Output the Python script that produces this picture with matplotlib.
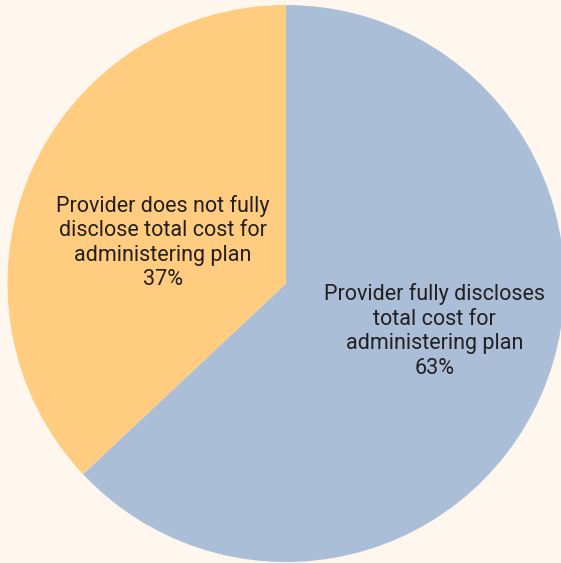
import matplotlib
matplotlib.use("Agg")
import matplotlib.pyplot as plt

categories = ["Provider fully discloses\ntotal cost for\nadministering plan",
              "Provider does not fully\ndisclose total cost for\nadministering plan"]
values = [63, 37]
colors = ["#AABED8", "#FFCC80"]
bg = "#FFF7EE"

plt.rcParams['font.family'] = ['Liberation Sans Narrow', 'Roboto', 'DejaVu Sans']

W, H = 561, 563
fig = plt.figure(figsize=(W / 100, H / 100), dpi=100, facecolor=bg)
ax = fig.add_axes([0, 0, 1, 1])
ax.set_facecolor(bg)

cx, cy, r = 286.0, 283.5, 278.5
ax.pie(values, colors=colors, startangle=90, counterclock=False,
       radius=1, center=(0, 0), wedgeprops=dict(linewidth=0))
ax.set_xlim(-cx / r, (W - cx) / r)
ax.set_ylim(-(H - cy) / r, cy / r)
ax.set_aspect('auto')
ax.axis('off')

label_pos = [(0.533, -0.171), (-0.442, 0.147)]
for cat, v, (x, y) in zip(categories, values, label_pos):
    ax.text(x, y, f"{cat}\n{v}%", ha='center', va='center', fontsize=15.5,
            color="#231F20", linespacing=1.22)

fig.savefig("out.png", dpi=100, facecolor=bg)
